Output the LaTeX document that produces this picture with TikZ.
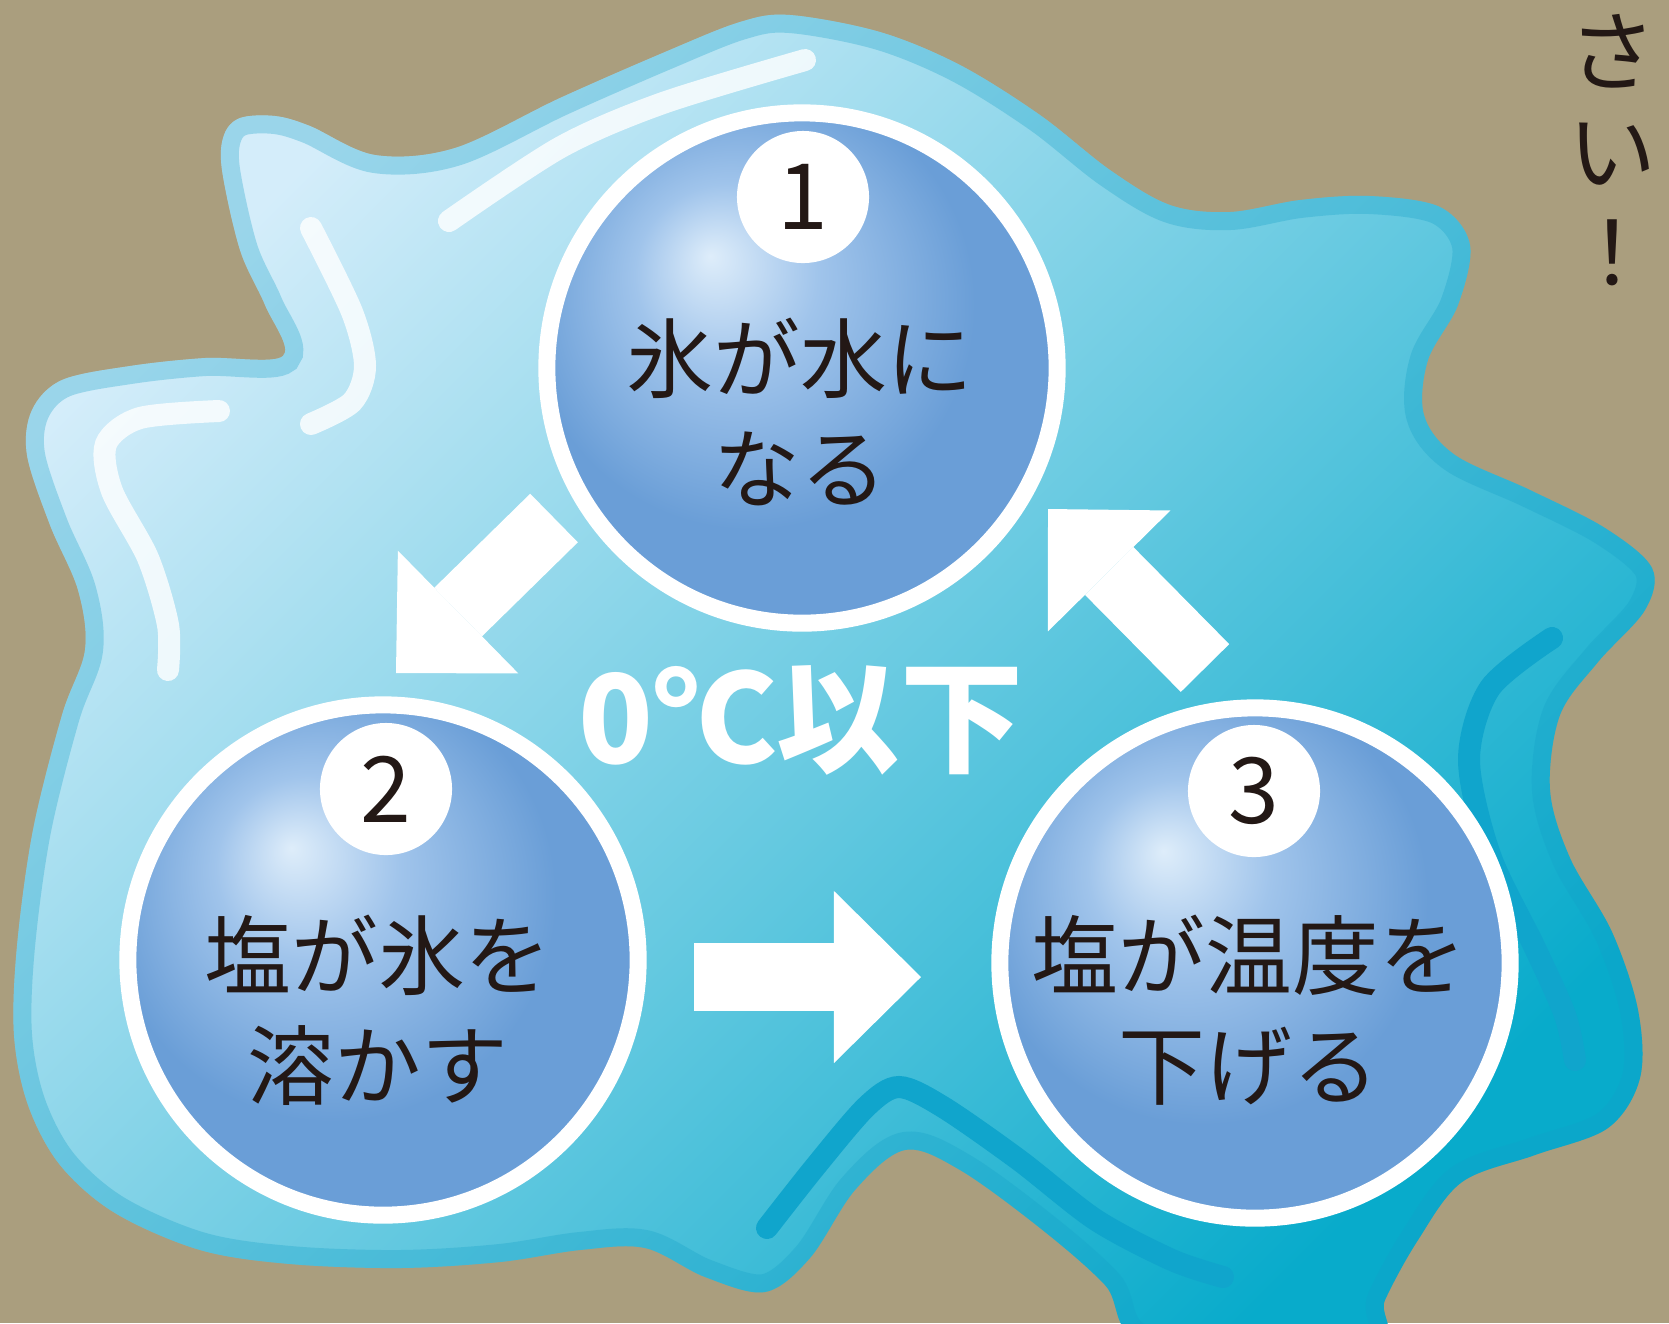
\documentclass[tikz,border=0pt]{standalone}
\usepackage{fontspec}
\usepackage{xcolor}
\usetikzlibrary{arrows.meta}
\newfontfamily\jp{Noto Sans CJK JP}

\definecolor{sand}{RGB}{170,158,126}
\definecolor{icetop}{RGB}{212,237,250}
\definecolor{icemid}{RGB}{124,203,226}
\definecolor{icebot}{RGB}{8,171,203}
\definecolor{rimblue}{RGB}{20,160,200}
\definecolor{deepblue}{RGB}{16,165,204}
\definecolor{ink}{RGB}{35,24,21}
\definecolor{orbhi}{RGB}{222,237,250}
\definecolor{orbmid}{RGB}{160,196,235}
\definecolor{orbedge}{RGB}{106,158,215}

\pgfdeclareradialshading{orb}{\pgfpoint{-9bp}{11bp}}{color(0bp)=(orbhi); color(9bp)=(orbmid); color(22bp)=(orbedge); color(50bp)=(orbedge)}

% outline of the puddle
\newcommand\puddle{plot[smooth cycle, tension=0.55] coordinates {
  (790,15) (880,32) (960,65) (1040,115) (1110,170) (1170,205) (1230,212)
  (1300,200) (1370,196) (1440,207) (1470,245) (1458,305) (1428,360)
  (1424,415) (1455,455) (1530,490) (1605,528) (1652,568) (1645,610)
  (1598,662) (1560,715) (1550,790) (1570,858) (1612,932) (1638,1010)
  (1640,1078) (1608,1128) (1535,1155) (1462,1182) (1418,1240) (1385,1300)
  (1370,1345) (1150,1345) (1105,1285) (1040,1228) (960,1170) (905,1150)
  (855,1190) (810,1258) (765,1292) (705,1277) (645,1248) (580,1250)
  (500,1262) (400,1268) (290,1264) (200,1250) (115,1213) (60,1165)
  (28,1105) (14,1035) (17,946) (33,830) (62,715) (85,650) (78,590)
  (50,525) (27,455) (32,410) (62,380) (130,366) (205,358) (283,356)
  (265,305) (240,250) (222,170) (224,135) (240,118) (275,116) (310,126)
  (375,155) (455,148) (560,98) (665,52) (740,22)}}

\tikzset{
  bubble/.style={circle, shading=orb, draw=white, line width=0.17cm,
    minimum size=5.1cm, inner sep=0pt},
  num/.style={circle, fill=white, minimum size=1.32cm, inner sep=0pt,
    text=ink, font=\jp\fontsize{26pt}{26pt}\selectfont},
  caption/.style={align=center, text=ink, inner sep=0pt,
    font=\jp\fontsize{24.7pt}{31.3pt}\selectfont},
  flow/.style={draw=white, line width=0.68cm,
    -{Triangle[length=0.87cm, width=1.72cm, line width=0pt]}},
  gloss/.style={white, opacity=0.8, line width=0.22cm, line cap=round},
  ripple/.style={deepblue, line width=0.22cm, line cap=round},
}

\begin{document}
\begin{tikzpicture}[x=0.01cm, y=-0.01cm]
\useasboundingbox (0,0) rectangle (1669,1323);
\fill[sand] (0,0) rectangle (1669,1323);

% water
\shade[top color=icetop, middle color=icemid, bottom color=icebot, shading angle=45] \puddle;
\begin{scope}
  \clip \puddle;
  \draw[rimblue, opacity=0.3, line width=0.36cm] \puddle;
\end{scope}

% shine and ripples
\draw[gloss] plot[smooth] coordinates {(449,221) (561,147) (663,103) (805,60)};
\draw[gloss] plot[smooth] coordinates {(311,228) (352,312) (365,366) (352,402) (311,424)};
\draw[gloss] plot[smooth] coordinates {(219,411) (140,418) (106,444) (112,491) (148,558) (168,625) (168,670)};
\draw[ripple] plot[smooth] coordinates {(1552,638) (1490,688) (1469,760) (1490,855) (1535,948) (1565,1015) (1575,1060)};
\draw[ripple] plot[smooth] coordinates {(767,1228) (815,1167) (866,1107) (899,1087) (943,1107) (1019,1160) (1096,1220) (1172,1260) (1223,1277)};

% the three steps
\node[bubble] (s1) at (802,368) {};
\node[bubble] (s2) at (383,960) {};
\node[bubble] (s3) at (1255,963) {};

\node[num] (n1) at (803,197) {1};
\node[num] (n2) at (386,789) {2};
\node[num] (n3) at (1254,791) {3};

\node[caption] (t1) at (800,412) {氷が水に\\なる};
\node[caption] (t2) at (378,1010) {塩が氷を\\溶かす};
\node[caption] (t3) at (1249,1010) {塩が温度を\\下げる};

% arrows between the steps
\coordinate (from1) at (554,518);
\coordinate (to2) at (396,673);
\coordinate (from2) at (694,977);
\coordinate (to3) at (921,977);
\coordinate (from3) at (1205,668);
\coordinate (to1) at (1048,509);
\draw[flow] (from1) -- (to2);
\draw[flow] (from2) -- (to3);
\draw[flow] (from3) -- (to1);

\node[text=white, font=\jp\bfseries\fontsize{35pt}{35pt}\selectfont] (temp) at (801,720) {0℃以下};

\node[align=center, text=ink, inner sep=0pt, font=\jp\fontsize{25pt}{28.5pt}\selectfont] (tail) at (1612,150) {さ\\い\\！};
\end{tikzpicture}
\end{document}
